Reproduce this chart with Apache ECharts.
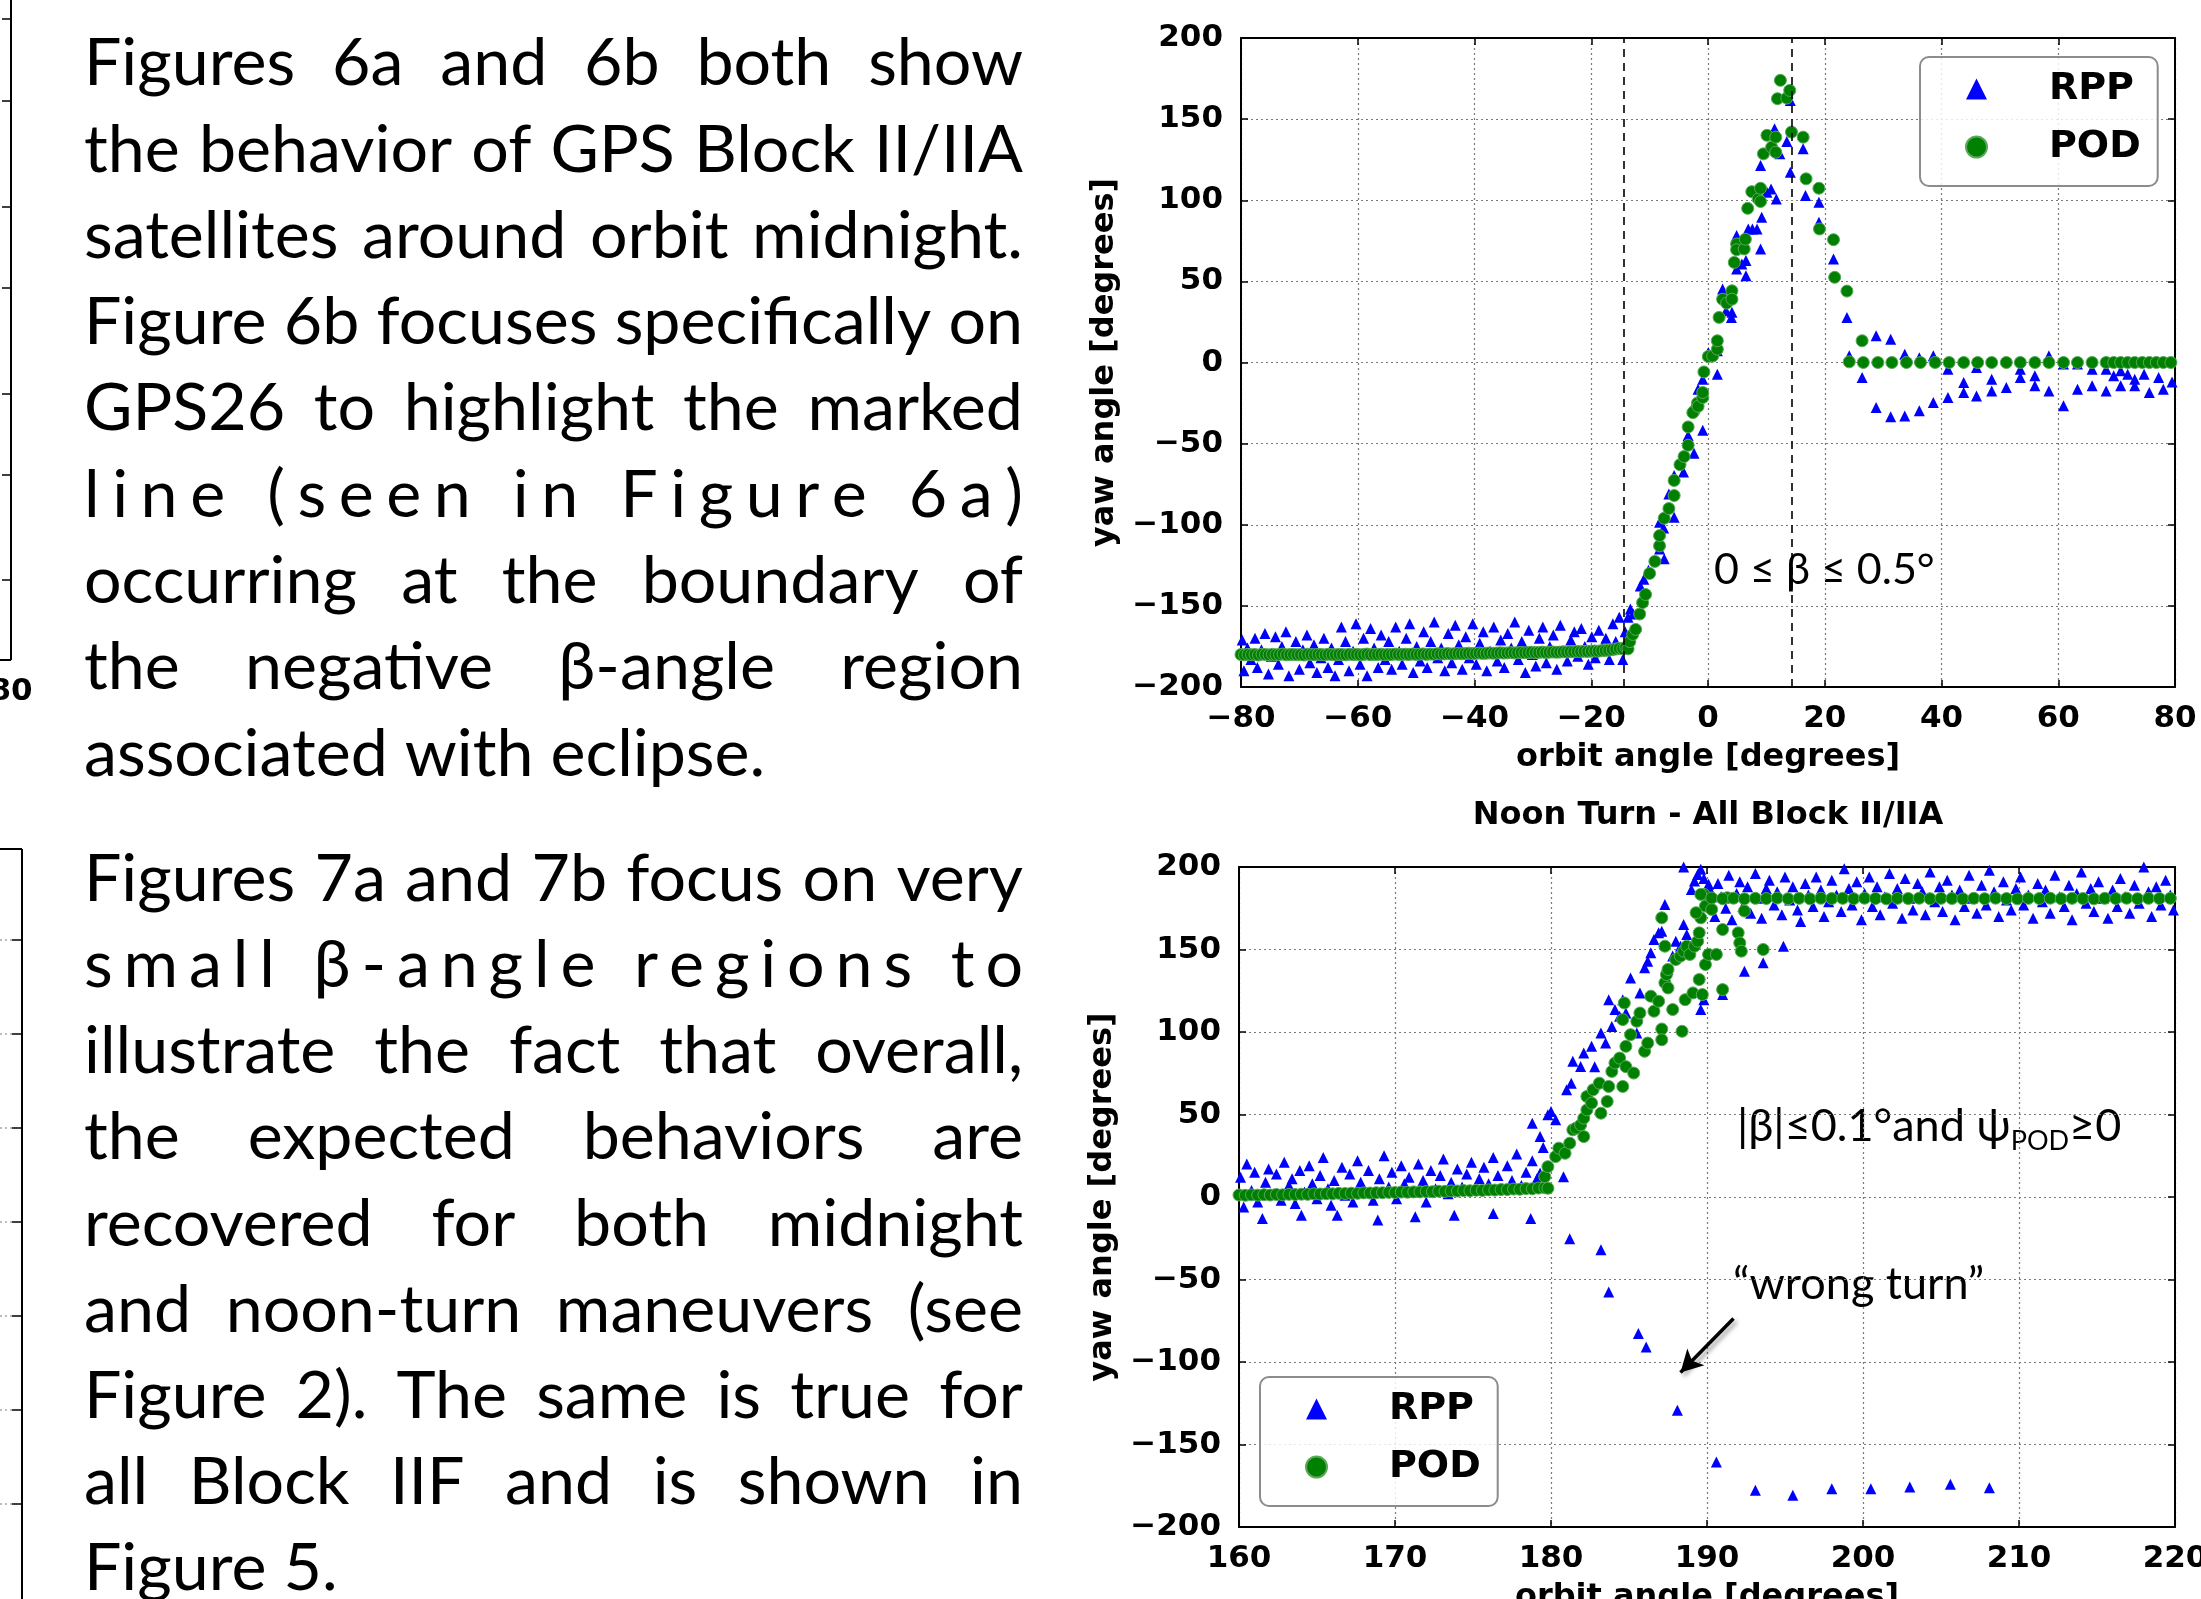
<!DOCTYPE html>
<html><head><meta charset="utf-8">
<script src="https://cdn.jsdelivr.net/npm/echarts@6/dist/echarts.min.js"></script>
<style>html,body{margin:0;padding:0;background:#fff;overflow:hidden}#c{width:2201px;height:1599px}</style>
</head><body><div id="c"></div>
<script>
// ---------------- DATA ----------------
const midnightXRange = [-80, 80, 20];
const noonXRange = [160, 220, 10];
const yawRange = [-200, 200, 50];
const eclipseBounds = [-14.5, 14.3];
const wrongTurnArrow = [[191.7, -73.6], [188.3, -106.4]];
const seriesNames = ['RPP', 'POD'];

const rppMidnight = [
[-79.8,-171],[-79.5,-190],[-78.9,-176],[-78.3,-183],[-77.6,-170],[-77.2,-188],[-76.5,-177],[-75.9,-167],[-75.3,-192],[-74.8,-181],
[-74.1,-169],[-73.6,-186],[-73.0,-175],[-72.3,-166],[-71.8,-193],[-71.2,-180],[-70.6,-172],[-70.0,-189],[-69.4,-177],[-68.7,-168],
[-68.2,-185],[-67.5,-174],[-67.0,-191],[-66.3,-182],[-65.8,-170],[-65.1,-188],[-64.5,-176],[-63.9,-193],[-63.3,-183],[-62.8,-163],
[-62.1,-172],[-61.5,-190],[-60.8,-178],[-60.3,-161],[-59.6,-186],[-59.0,-170],[-58.4,-193],[-57.8,-164],[-57.2,-176],[-56.5,-188],
[-56.0,-168],[-55.3,-183],[-54.7,-172],[-54.2,-189],[-53.5,-163],[-52.9,-178],[-52.4,-186],[-51.7,-170],[-51.1,-161],[-50.5,-191],
[-49.9,-175],[-49.3,-184],[-48.7,-166],[-48.1,-188],[-47.5,-172],[-46.9,-160],[-46.3,-182],[-45.7,-176],[-45.1,-190],[-44.5,-167],
[-43.9,-185],[-43.3,-162],[-42.7,-174],[-42.1,-189],[-41.5,-169],[-40.9,-182],[-40.3,-161],[-39.7,-186],[-39.1,-173],[-38.5,-166],
[-37.9,-190],[-37.3,-178],[-36.7,-163],[-36.1,-184],[-35.5,-171],[-34.9,-188],[-34.3,-167],[-33.7,-176],[-33.1,-160],[-32.5,-183],
[-31.9,-172],[-31.3,-191],[-30.7,-165],[-30.1,-180],[-29.5,-187],[-28.9,-170],[-28.3,-163],[-27.7,-185],[-27.1,-175],[-26.5,-168],
[-25.9,-189],[-25.3,-162],[-24.7,-178],[-24.1,-184],[-23.5,-171],[-22.9,-166],[-22.3,-181],[-21.7,-164],[-21.1,-175],[-20.5,-186],
[-19.9,-169],[-19.3,-182],[-18.7,-165],[-18.1,-176],[-17.5,-170],[-16.9,-183],[-16.3,-161],[-15.8,-172],[-15.2,-157],[-14.6,-183],
[-14.2,-166],[-13.7,-157],[-13.3,-152],[-12.8,-155],[-11.6,-137.7],[-11.0,-133.6],[-10.2,-128],[-8.3,-115],[-7.5,-121],[-8.3,-98.5],
[-7.6,-102],[-6.7,-81],[-5.8,-95.4],[-5.8,-69.6],[-4.2,-67.5],[-3.4,-45],[-2.4,-56],[-0.9,-41.7],[-2.6,-27.8],[-1.7,-16.5],
[-0.9,-10.3],[0.05,6.2],[1.6,-7.2],[1.6,7.2],[2.5,45.3],[3.1,31.9],[4.0,27.8],[4.1,30.9],[4.9,78.2],[4.9,57.6],
[5.8,60.7],[6.5,53.5],[6.5,62.8],[6.9,82.3],[7.6,82.3],[8.4,82.3],[9.0,70],[9.2,89.5],[9.0,121.4],[10.1,105],
[10.8,107],[11.4,144],[11.7,100.8],[12.3,128.6],[13.5,136.2],[14.1,161.5],[14.1,117.3],[16.3,131.7],[16.7,102.9],[19.0,98.8],
[19.0,86.4],[21.5,63.8],[23.8,27.8],[24.2,4.1],[26.4,-9.3],[28.8,16.5],[28.8,-27.8],[31.3,14.4],[31.3,-33.5],[33.7,5.1],
[33.7,-33],[36.2,3],[36.2,-29.8],[38.6,4.1],[38.6,-24.7],[41.1,-4.1],[41.1,-21.6],[43.8,-12.3],[43.8,-18.5],[46.0,-3.1],
[46.0,-20.6],[48.6,-10.3],[48.6,-17.5],[51.1,-15.4],[53.5,-4.1],[53.5,-9.3],[56.0,-8.2],[56.0,-14.4],[58.4,4.1],[58.4,-17.5],
[60.9,-1.0],[60.9,-26.7],[63.3,-1],[63.3,-16.5],[65.8,-4.1],[65.8,-14.4],[68.2,-4.1],[68.2,-17.5],[69.5,-8.2],[70.7,-5.1],
[70.7,-14.4],[71.9,-7.2],[73.1,-10.3],[73.1,-14.4],[74.7,-7.2],[75.6,-18.5],[77.2,-9.3],[78.0,-16.5],[79.5,-12]
];

const podMidnight = [
[-80.0,-180.0],[-79.4,-180.2],[-78.8,-179.9],[-78.2,-180.1],[-77.6,-180.0],[-77.0,-180.3],[-76.4,-179.8],[-75.8,-180.0],[-75.2,-180.2],[-74.6,-179.9],
[-74.0,-180.1],[-73.4,-180.0],[-72.8,-179.7],[-72.2,-180.2],[-71.6,-180.0],[-71.0,-179.9],[-70.4,-180.1],[-69.8,-180.0],[-69.2,-180.3],[-68.6,-179.8],
[-68.0,-180.0],[-67.4,-180.1],[-66.8,-179.9],[-66.2,-180.0],[-65.6,-180.2],[-65.0,-179.8],[-64.4,-180.0],[-63.8,-180.1],[-63.2,-179.9],[-62.6,-180.0],
[-62.0,-180.2],[-61.4,-179.8],[-60.8,-180.0],[-60.2,-179.9],[-59.6,-180.1],[-59.0,-180.0],[-58.4,-179.7],[-57.8,-180.1],[-57.2,-179.9],[-56.6,-180.0],
[-56.0,-179.8],[-55.4,-180.1],[-54.8,-179.9],[-54.2,-180.0],[-53.6,-179.7],[-53.0,-180.0],[-52.4,-179.9],[-51.8,-179.8],[-51.2,-180.0],[-50.6,-179.7],
[-50.0,-179.9],[-49.4,-179.8],[-48.8,-179.6],[-48.2,-179.9],[-47.6,-179.7],[-47.0,-179.8],[-46.4,-179.5],[-45.8,-179.7],[-45.2,-179.6],[-44.6,-179.4],
[-44.0,-179.6],[-43.4,-179.5],[-42.8,-179.3],[-42.2,-179.5],[-41.6,-179.4],[-41.0,-179.2],[-40.4,-179.4],[-39.8,-179.3],[-39.2,-179.1],[-38.6,-179.3],
[-38.0,-179.2],[-37.4,-179.0],[-36.8,-179.2],[-36.2,-179.1],[-35.6,-178.9],[-35.0,-179.1],[-34.4,-179.0],[-33.8,-178.8],[-33.2,-179.0],[-32.6,-178.9],
[-32.0,-178.7],[-31.4,-178.9],[-30.8,-178.8],[-30.2,-178.6],[-29.6,-178.8],[-29.0,-178.7],[-28.4,-178.5],[-27.8,-178.7],[-27.2,-178.6],[-26.6,-178.4],
[-26.0,-178.6],[-25.4,-178.5],[-24.8,-178.3],[-24.2,-178.4],[-23.6,-178.2],[-23.0,-178.3],[-22.4,-178.1],[-21.8,-178.2],[-21.2,-178.0],[-20.6,-178.1],
[-20.0,-177.9],[-19.4,-177.8],[-18.8,-177.9],[-18.2,-177.6],[-17.6,-177.5],[-17.0,-177.3],[-16.4,-177.0],[-15.8,-176.6],[-15.2,-176.2],[-14.6,-176.4],
[-14.1,-175.5],[-13.7,-176.5],[-13.4,-172],[-12.9,-167.6],[-12.4,-164.5],[-11.7,-155],[-11.2,-148],[-10.7,-143],[-10.0,-130],[-9.1,-122.6],
[-8.3,-113],[-8.3,-106.7],[-7.5,-96],[-6.7,-90],[-5.8,-82],[-5.8,-72.7],[-4.8,-63],[-4.1,-58],[-3.4,-51],[-3.4,-39.7],
[-2.4,-30],[-1.8,-25],[-2.6,-30.9],[-1.7,-27],[-0.9,-21.6],[-0.9,-18.5],[-0.7,-5.8],[0.05,3.7],[0.8,4],[1.6,8.2],
[1.6,13.4],[1.9,27.8],[2.5,39],[3.2,36.6],[4.1,44.2],[4.1,39],[4.5,61.7],[4.9,73],[4.9,69.5],[6.2,70],
[6.4,76],[6.8,95],[7.5,105.3],[8.6,100.8],[9.0,99.2],[9.0,107.4],[9.5,128.6],[10.1,140],[10.9,132.7],[11.6,129.6],
[11.6,138.9],[11.9,162.6],[12.4,173.9],[13.5,163],[14.0,167.7],[14.3,142],[16.3,138.9],[16.8,113.2],[19.0,107.4],[19.1,82.3],
[21.5,75.7],[21.7,52.5],[23.8,44],[26.4,13.4],[24.2,0.4],[26.6,0],[29.1,0],[31.5,0],[34.0,0],[36.4,0],
[38.9,0],[41.3,0],[43.8,0],[46.2,0],[48.6,0],[51.1,0],[53.5,0],[56.0,0],[58.4,0],[60.9,0],
[63.3,0],[65.8,0],[68.2,0],[69.5,0],[70.7,0],[71.9,0],[73.1,0],[74.4,0],[75.6,0],[76.8,0],[78.0,0],[79.3,0]
];

const rppNoon = [
[160.1,12],[160.3,-6],[160.5,20],[160.8,4],[161.0,15],[161.2,-3],[161.5,-13],[161.7,9],[161.9,17],[162.2,2],
[162.4,14],[162.7,-2],[162.9,21],[163.2,7],[163.4,11],[163.6,-4],[163.9,16],[164.0,-11],[164.2,3],[164.5,19],
[164.7,8],[165.0,-1],[165.2,13],[165.4,24],[165.7,5],[165.9,-5],[166.1,10],[166.3,-11],[166.6,18],[166.8,1],
[167.1,14],[167.3,-3],[167.6,22],[167.8,9],[168.0,4],[168.3,16],[168.6,-2],[168.9,-14],[169.0,11],[169.3,25],
[169.6,6],[169.8,15],[170.1,-1],[170.4,19],[170.6,8],[170.9,12],[171.1,3],[171.3,-12],[171.5,20],[171.8,10],
[172.0,-3],[172.3,16],[172.6,5],[172.9,13],[173.1,23],[173.4,2],[173.6,9],[173.8,-11],[174.0,17],[174.3,6],
[174.6,14],[174.9,21],[175.1,4],[175.4,11],[175.7,18],[176.0,8],[176.3,-10],[176.3,24],[176.6,13],[176.9,5],
[177.2,19],[177.5,10],[177.8,26],[178.1,7],[178.4,15],[178.7,-13],[178.8,22],[179.1,11],[179.3,14],[179.5,30],
[178.8,44.7],[179.3,36.6],[179.8,49.8],[180.0,51.8],[179.3,14.4],[180.3,46.8],[180.8,12.3],[181.0,65],[181.3,69],[181.4,82.2],
[181.9,79.1],[182.1,87.2],[182.6,91.3],[182.8,79],[183.2,99.4],[183.5,93.3],[183.7,119.6],[183.9,103.4],[184.1,113.6],[184.4,109.5],
[184.6,119.6],[184.8,111.5],[185.1,132.8],[185.5,99.4],[185.7,123.7],[186.0,138.9],[186.2,142.9],[186.4,148],[186.6,156],[186.9,160.1],
[187.1,161.1],[187.3,177.3],[187.5,137.9],[187.8,146],[188.0,155],[188.3,152],[188.5,165.2],[188.7,159.1],[189.0,186.4],[189.2,191.5],
[189.4,195.5],[189.6,113.6],[189.6,198.6],[189.8,119.6],[189.9,184.4],[190.1,189.5],[188.5,200],[191.0,122.7],[192.4,136.8],[193.6,141.9],[194.9,152],
[181.2,-25.3],[183.2,-31.9],[183.7,-57.6],[185.6,-82.8],[186.1,-90.9],[188.1,-129.3],[190.6,-160.6],[193.1,-177.8],[195.5,-180.8],[198.0,-176.8],
[200.5,-176.8],[203.0,-175.8],[205.6,-174.1],[208.1,-176.2],
[189.8,193],[190.0,178],[190.2,186],[190.5,170],[190.7,190],[190.9,182],[191.2,175],[191.4,195],[191.6,168],[191.9,184],
[192.1,191],[192.3,176],[192.6,188],[192.8,172],[193.1,196],[193.3,181],[193.5,169],[193.8,187],[194.0,192],[194.3,177],
[194.5,185],[194.8,171],[195.0,194],[195.3,180],[195.5,188],[195.8,174],[196.0,167],[196.3,190],[196.5,183],[196.8,176],
[197.0,194],[197.3,186],[197.5,170],[197.8,179],[198.0,192],[198.3,183],[198.6,173],[198.8,199],[199.1,187],[199.3,177],
[199.6,191],[199.9,168],[200.1,184],[200.4,194],[200.6,176],[200.9,188],[201.1,171],[201.4,182],[201.7,196],[201.9,178],
[202.2,187],[202.5,169],[202.7,193],[203.0,181],[203.2,174],[203.5,190],[203.8,185],[204.0,171],[204.3,197],[204.6,179],
[204.9,188],[205.1,173],[205.4,192],[205.7,183],[205.9,168],[206.2,186],[206.5,176],[206.8,195],[207.0,181],[207.3,172],
[207.6,189],[207.9,177],[208.1,198],[208.4,185],[208.7,170],[209.0,191],[209.2,180],[209.5,174],[209.8,187],[210.1,194],
[210.3,177],[210.6,183],[210.9,169],[211.2,190],[211.5,179],[211.7,186],[212.0,172],[212.3,195],[212.6,182],[212.9,176],
[213.2,189],[213.4,168],[213.7,184],[214.0,197],[214.3,178],[214.6,187],[214.8,173],[215.1,191],[215.4,181],[215.7,169],
[216.0,186],[216.3,176],[216.5,193],[216.8,182],[217.1,172],[217.4,189],[217.7,178],[218.0,200],[218.3,185],[218.5,170],
[218.8,188],[219.1,177],[219.4,192],[219.7,183],[219.9,174]
];

const podNoon = [
[160.0,1.2],[160.4,1.0],[160.8,1.3],[161.2,1.1],[161.6,1.4],[162.0,1.2],[162.4,1.5],[162.8,1.3],[163.2,1.6],[163.6,1.5],
[164.0,1.7],[164.4,1.6],[164.8,1.9],[165.2,1.8],[165.6,2.0],[166.0,1.9],[166.4,2.2],[166.8,2.1],[167.2,2.3],[167.6,2.2],
[168.0,2.5],[168.4,2.4],[168.8,2.6],[169.2,2.6],[169.6,2.8],[170.0,2.7],[170.4,3.0],[170.8,2.9],[171.2,3.1],[171.6,3.1],
[172.0,3.3],[172.4,3.2],[172.8,3.5],[173.2,3.4],[173.6,3.7],[174.0,3.6],[174.4,3.9],[174.8,3.8],[175.2,4.1],[175.6,4.0],
[176.0,4.3],[176.4,4.2],[176.8,4.5],[177.2,4.5],[177.6,4.8],[178.0,4.7],[178.4,5.1],[178.8,5.0],[179.2,5.4],[179.6,5.6],
[179.6,12.3],[179.8,18.4],[179.8,5.3],[180.3,24.5],[180.5,29.6],[180.9,26.5],[181.2,32.6],[181.4,40.7],[181.6,41.7],[181.9,43.7],
[182.1,47.8],[182.1,36.6],[182.3,52.8],[182.3,60.9],[182.6,56.9],[182.7,65],[183.1,69],[183.2,50.8],[183.6,57.9],[183.7,67],
[183.9,76.1],[184.1,81.2],[184.4,84.2],[184.6,67],[184.6,107.5],[184.7,117.6],[184.8,91.3],[184.8,79],[185.1,98.4],[185.3,75.1],
[185.5,106.5],[185.7,111.5],[186.0,88.3],[186.2,93.3],[186.4,121.7],[186.6,112.6],[186.9,118.6],[187.1,101.8],[187.1,95.3],[187.3,129.8],
[187.4,134.8],[187.5,126.7],[187.8,113.6],[188.0,143.9],[188.3,146],[188.4,100.4],[188.5,149],[188.6,119.6],[188.7,152],[188.9,147],
[189.1,123.7],[189.2,152],[189.4,155],[189.5,131.8],[189.6,169.2],[189.7,122.7],[189.8,183.4],[189.9,176.3],[189.9,140.9],[190.1,147],
[190.3,174.3],[190.6,147],[191.0,125.7],[191.0,162.1],[191.3,181.4],[192.0,160.1],[192.1,154],[192.2,149],[192.4,173.3],[193.6,150],
[187.1,169.2],[187.3,152],[187.5,137.9],[189.3,172.3],[189.5,160.1],
[189.6,183.4],[190.3,181.2],[191.0,180.8],[191.7,181.1],[192.4,180.7],[193.1,181.0],[193.8,180.9],[194.5,181.2],[195.2,180.8],[195.9,181.0],
[196.6,180.7],[197.3,181.1],[198.0,180.9],[198.7,181.0],[199.4,180.8],[200.1,181.1],[200.8,180.9],[201.5,180.7],[202.2,181.0],[202.9,180.9],
[203.6,181.1],[204.3,180.8],[205.0,181.0],[205.7,180.9],[206.4,180.7],[207.1,181.0],[207.8,180.8],[208.5,181.1],[209.2,180.9],[209.9,180.7],
[210.6,181.0],[211.3,180.9],[212.0,181.1],[212.7,180.8],[213.4,181.0],[214.1,180.9],[214.8,180.7],[215.5,181.0],[216.2,180.9],[216.9,181.1],
[217.6,180.8],[218.3,181.0],[219.0,180.9],[219.7,181.0]
];

const para1Lines = [
 ['Figures 6a and 6b both show','w'],
 ['the behavior of GPS Block II/IIA','w'],
 ['satellites around orbit midnight.','w'],
 ['Figure 6b focuses specifically on','w'],
 ['GPS26 to highlight the marked','w'],
 ['line (seen in Figure 6a)','c'],
 ['occurring at the boundary of','w'],
 ['the negative \u03b2-angle region','w'],
 ['associated with eclipse.','l']
];
const para2Lines = [
 ['Figures 7a and 7b focus on very','w'],
 ['small \u03b2-angle regions to','c'],
 ['illustrate the fact that overall,','w'],
 ['the expected behaviors are','w'],
 ['recovered for both midnight','w'],
 ['and noon-turn maneuvers (see','w'],
 ['Figure 2). The same is true for','w'],
 ['all Block IIF and is shown in','w'],
 ['Figure 5.','l']
];

// ---------------- LAYOUT ----------------
const PF = 'Lato';
const measureCtx = document.createElement('canvas').getContext('2d');
function tw(t, fs) { measureCtx.font = fs + 'px ' + PF; return measureCtx.measureText(t).width; }
const PX0 = 84, PW = 939;
let fs = 74;
[...para1Lines, ...para2Lines].forEach(l => { fs = Math.min(fs, PW * 100 / tw(l[0], 100)); });
fs = Math.floor(fs * 10) / 10;
const graphics = [];
function addText(t, x, y) {
  graphics.push({type:'text', x, y, silent:true,
    style:{text:t, fontFamily:PF, fontSize:fs, fill:'#000', align:'left', verticalAlign:'middle'}});
}
function layoutPara(lines, base0, step) {
  lines.forEach((l, i) => {
    const y = base0 + i * step - 0.387 * fs;
    const text = l[0], mode = l[1];
    if (mode === 'l') { addText(text, PX0, y); return; }
    if (mode === 'w') {
      const words = text.split(' ');
      const ws = words.map(w => tw(w, fs));
      const sum = ws.reduce((a, b) => a + b, 0);
      const gap = (PW - sum) / (words.length - 1);
      let x = PX0;
      words.forEach((w, k) => { addText(w, x, y); x += ws[k] + gap; });
      return;
    }
    const chars = Array.from(text);
    const cw = chars.map(c => tw(c, fs));
    const sum = cw.reduce((a, b) => a + b, 0);
    const extra = (PW - sum) / (chars.length - 1);
    let x = PX0;
    chars.forEach((c, k) => { if (c !== ' ') addText(c, x, y); x += cw[k] + extra; });
  });
}
layoutPara(para1Lines, 89.5, 86.3);
layoutPara(para2Lines, 905, 86.2);

// annotations
const AF = 43;
graphics.push({type:'text', x:1714, y:587 - 0.387 * AF, silent:true,
  style:{text:'0 \u2264 \u03b2 \u2264 0.5\u00b0', fontFamily:PF, fontSize:AF, fill:'#000', verticalAlign:'middle'}});
graphics.push({type:'text', x:1737, y:1097, silent:true,
  style:{text:'|\u03b2|\u22640.1\u00b0and \u03c8{sub|POD}\u22650', fontFamily:PF, fontSize:45, fill:'#000', verticalAlign:'top', lineHeight:58,
    rich:{sub:{fontFamily:PF, fontSize:27, fill:'#000', verticalAlign:'bottom', lineHeight:58}}}});
graphics.push({type:'text', x:1733, y:1302 - 0.387 * 45, silent:true,
  style:{text:'\u201cwrong turn\u201d', fontFamily:PF, fontSize:45, fill:'#000', verticalAlign:'middle'}});
graphics.push({type:'text', x:1708, y:816, silent:true,
  style:{text:'Noon Turn - All Block II/IIA', fontFamily:'DejaVu Sans', fontWeight:'bold', fontSize:32, fill:'#000', align:'center', verticalAlign:'middle'}});

// fragments of neighbouring figures at the left edge
function gLine(x1, y1, x2, y2, w, c, dash) {
  graphics.push({type:'line', silent:true, shape:{x1, y1, x2, y2}, style:{stroke:c || '#000', lineWidth:w || 2, lineDash:dash || null}});
}
gLine(11, -5, 11, 660, 2);
gLine(-5, 660, 11, 660, 2);
[19, 101, 207, 288, 394, 475, 580].forEach(y => gLine(2, y, 11, y, 1.5));
graphics.push({type:'text', x:11, y:692, silent:true,
  style:{text:'80', fontFamily:'DejaVu Sans', fontWeight:'bold', fontSize:31, fill:'#000', align:'center', verticalAlign:'middle'}});
const BLX = 22;
gLine(-5, 849, BLX, 849, 2);
gLine(BLX, 849, BLX, 1605, 2);
[940, 1034, 1128, 1222, 1316, 1410, 1504].forEach(y => { gLine(0, y, BLX - 10, y, 1.2, '#7a7a7a', [2, 3]); gLine(BLX - 10, y, BLX, y, 1.5); });

// ---------------- CHART ----------------
const black = '#000';
const tickFont = {fontFamily:'DejaVu Sans', fontWeight:'bold', fontSize:31, color:'#000'};
const nameFont = {fontFamily:'DejaVu Sans', fontWeight:'bold', fontSize:32, color:'#000'};
const minus = v => (v < 0 ? '\u2212' : '') + Math.abs(v);
const tick = {show:true, inside:true, length:7, lineStyle:{color:black, width:1.5}};
const aLine = {show:true, onZero:false, lineStyle:{color:black, width:2}};
const grid = {show:false, lineStyle:{color:'#7a7a7a', width:1.2, type:[2, 3]}};
function mainX(g, r, name) {
  return {gridIndex:g, type:'value', min:r[0], max:r[1], interval:r[2], position:'bottom', axisLine:aLine, axisTick:tick,
    axisLabel:Object.assign({show:true, margin:16, formatter:minus, showMinLabel:true, showMaxLabel:true, hideOverlap:false}, tickFont),
    splitLine:Object.assign({}, grid, {show:true}), name, nameLocation:'middle', nameGap:55, nameTextStyle:nameFont};
}
function sideX(g, r) {
  return {gridIndex:g, type:'value', min:r[0], max:r[1], interval:r[2], position:'top', axisLine:aLine, axisTick:tick,
    axisLabel:{show:false}, splitLine:{show:false}};
}
function mainY(g, r, name) {
  return {gridIndex:g, type:'value', min:r[0], max:r[1], interval:r[2], position:'left', axisLine:aLine, axisTick:tick,
    axisLabel:Object.assign({show:true, margin:18, formatter:minus, showMinLabel:true, showMaxLabel:true, hideOverlap:false}, tickFont),
    splitLine:Object.assign({}, grid, {show:true}), name, nameLocation:'middle', nameGap:120, nameRotate:90, nameTextStyle:nameFont};
}
function sideY(g, r) {
  return {gridIndex:g, type:'value', min:r[0], max:r[1], interval:r[2], position:'right', axisLine:aLine, axisTick:tick,
    axisLabel:{show:false}, splitLine:{show:false}};
}
function legendAt(left, top) {
  return {left, top, orient:'vertical', selectedMode:false,
    data:[{name:seriesNames[0], icon:'triangle'}, {name:seriesNames[1], icon:'circle'}],
    itemWidth:21, itemHeight:21, itemGap:18, padding:[12, 17, 19, 45],
    backgroundColor:'rgba(255,255,255,0.82)', borderColor:'#8c8c8c', borderWidth:2, borderRadius:9,
    textStyle:{fontFamily:'DejaVu Sans', fontWeight:'bold', fontSize:38, color:'#000', lineHeight:40, padding:[0, 0, 0, 57]}};
}
const rppStyle = {symbol:'triangle', symbolSize:11, itemStyle:{color:'#0000ff', opacity:1}};
const podStyle = {symbol:'circle', symbolSize:12, itemStyle:{color:'#008000', borderColor:'#5aa85a', borderWidth:1, opacity:1}};

const option = {
  animation:false,
  backgroundColor:'#fff',
  grid:[
    {left:1241, top:38, width:934, height:649, containLabel:false, outerBoundsMode:'none'},
    {left:1239, top:867, width:936, height:660, containLabel:false, outerBoundsMode:'none'}
  ],
  xAxis:[mainX(0, midnightXRange, 'orbit angle [degrees]'), sideX(0, midnightXRange),
         mainX(1, noonXRange, 'orbit angle [degrees]'), sideX(1, noonXRange)],
  yAxis:[mainY(0, yawRange, 'yaw angle [degrees]'), sideY(0, yawRange),
         mainY(1, yawRange, 'yaw angle [degrees]'), sideY(1, yawRange)],
  legend:[legendAt(1920, 57), legendAt(1260, 1377)],
  series:[
    Object.assign({type:'scatter', name:seriesNames[0], xAxisIndex:0, yAxisIndex:0, data:rppMidnight, silent:true,
      markLine:{silent:true, symbol:['none', 'none'], label:{show:false}, animation:false,
        lineStyle:{color:'#000', width:1.6, type:[8, 6]}, data:eclipseBounds.map(v => ({xAxis:v}))}}, rppStyle),
    Object.assign({type:'scatter', name:seriesNames[1], xAxisIndex:0, yAxisIndex:0, data:podMidnight, silent:true}, podStyle),
    Object.assign({type:'scatter', name:seriesNames[0], xAxisIndex:2, yAxisIndex:2, data:rppNoon, silent:true,
      markLine:{silent:true, symbol:['none', 'arrow'], symbolSize:[18, 22], label:{show:false}, animation:false,
        lineStyle:{color:'#000', width:3.5, type:'solid', shadowColor:'rgba(0,0,0,0.35)', shadowBlur:4, shadowOffsetX:3, shadowOffsetY:3},
        data:[[{coord:wrongTurnArrow[0]}, {coord:wrongTurnArrow[1]}]]}}, rppStyle),
    Object.assign({type:'scatter', name:seriesNames[1], xAxisIndex:2, yAxisIndex:2, data:podNoon, silent:true}, podStyle)
  ],
  graphic:{elements:graphics}
};
const chart = echarts.init(document.getElementById('c'), null, {renderer:'canvas'});
chart.setOption(option);
</script></body></html>
